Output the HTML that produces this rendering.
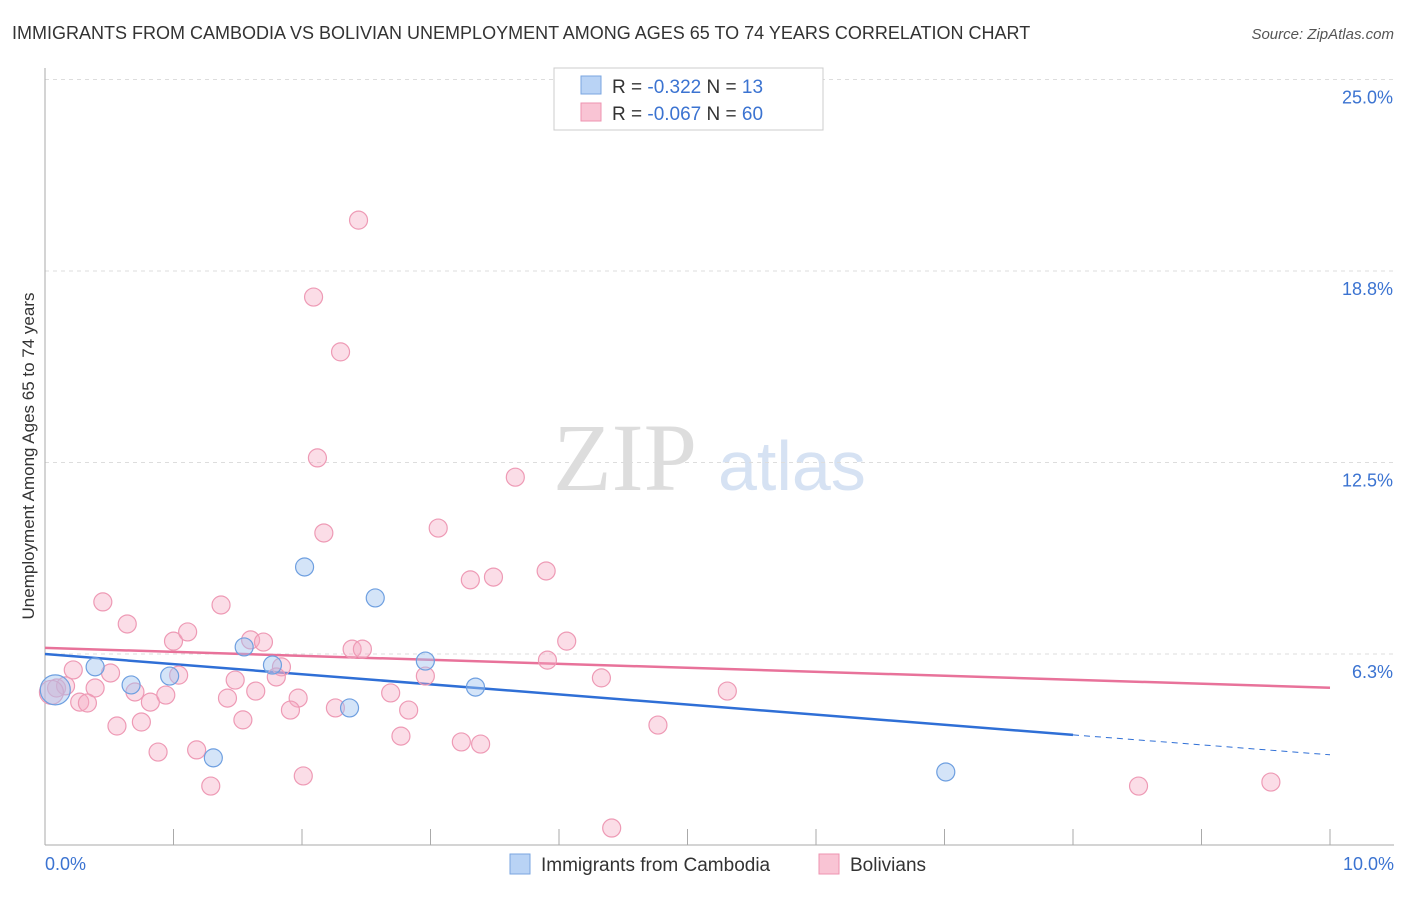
<!DOCTYPE html>
<html><head><meta charset="utf-8"><style>
body{margin:0;background:#fff;font-family:"Liberation Sans",sans-serif;}
</style></head><body>
<svg id="chart" width="1406" height="892" xmlns="http://www.w3.org/2000/svg" font-family="Liberation Sans, sans-serif">
<text x="12" y="39" font-size="18" fill="#333">IMMIGRANTS FROM CAMBODIA VS BOLIVIAN UNEMPLOYMENT AMONG AGES 65 TO 74 YEARS CORRELATION CHART</text>
<text x="1394" y="39" font-size="15" fill="#555" text-anchor="end" font-style="italic">Source: ZipAtlas.com</text>
<g>
<text x="553" y="490" font-size="96" fill="#ddd" font-family="Liberation Serif, serif">ZIP</text>
<text x="718" y="490" font-size="70" fill="#d6e2f3">atlas</text>
</g>
<g id="grid"></g>
<g id="axes"></g>
<g id="lines"></g>
<g id="points"></g>
<text transform="translate(34,456) rotate(-90)" font-size="17" fill="#333" text-anchor="middle">Unemployment Among Ages 65 to 74 years</text>
<g>
<rect x="554" y="68" width="269" height="62" fill="#fff" stroke="#ccc"/>
<rect x="581" y="76" width="20" height="18" fill="#b9d3f5" stroke="#7aa6e0"/>
<rect x="581" y="103" width="20" height="18" fill="#f9c4d4" stroke="#ee93b0"/>
<text x="612" y="93" font-size="19" fill="#333">R = <tspan fill="#3b73d1">-0.322</tspan>   N = <tspan fill="#3b73d1"> 13</tspan></text>
<text x="612" y="120" font-size="19" fill="#333">R = <tspan fill="#3b73d1">-0.067</tspan>   N = <tspan fill="#3b73d1">60</tspan></text>
</g>
<g>
<rect x="510" y="854" width="20" height="20" fill="#b9d3f5" stroke="#7aa6e0"/>
<text x="541" y="871" font-size="19" fill="#333">Immigrants from Cambodia</text>
<rect x="819" y="854" width="20" height="20" fill="#f9c4d4" stroke="#ee93b0"/>
<text x="850" y="871" font-size="19" fill="#333">Bolivians</text>
</g>
</svg>
<script>
const blueX=[0.08,0.39,0.67,0.97,1.31,1.55,1.77,2.02,2.37,2.57,2.96,3.35,7.01];
const blueY=[5.08,5.83,5.24,5.53,2.86,6.48,5.89,9.09,4.49,8.08,6.02,5.17,2.40];
const blueR=[15,9,9,9,9,9,9,9,9,9,9,9,9];
const pinkX=[0.09,0.16,0.45,0.64,0.22,0.51,0.39,0.27,0.33,0.56,0.75,0.70,0.82,0.94,0.88,1.18,1.29,1.04,1.00,1.11,1.37,1.60,1.70,1.84,1.80,1.48,1.42,1.64,1.54,1.97,1.91,2.01,2.39,2.47,2.26,2.69,2.83,2.77,2.96,2.44,2.09,2.30,2.12,2.17,3.66,3.06,3.31,3.49,3.90,4.06,3.91,4.33,3.24,3.39,4.77,4.41,5.31,8.51,9.54,0.05];
const pinkY=[5.14,5.21,7.95,7.23,5.73,5.63,5.14,4.68,4.65,3.90,4.03,5.01,4.68,4.91,3.05,3.12,1.94,5.56,6.67,6.97,7.85,6.71,6.64,5.83,5.50,5.40,4.81,5.04,4.10,4.81,4.42,2.27,6.41,6.41,4.49,4.98,4.42,3.57,5.53,20.41,17.90,16.11,12.65,10.20,12.02,10.36,8.67,8.76,8.96,6.67,6.05,5.47,3.38,3.31,3.93,0.57,5.04,1.94,2.07,5.0];
const yTicks=[25,18.75,12.5,6.25];
const yTickLabels=["25.0%","18.8%","12.5%","6.3%"];
const xTicks=[0,1,2,3,4,5,6,7,8,9,10];
const blueTrend=[[0,6.25],[8,3.61],[10,2.96]];
const pinkTrend=[[0,6.45],[10,5.15]];
const NS="http://www.w3.org/2000/svg";
const X=v=>45+v*128.5, Y=v=>845.5-v*30.64;
function mk(tag,attrs,parent){const e=document.createElementNS(NS,tag);for(const k in attrs)e.setAttribute(k,attrs[k]);document.getElementById(parent).appendChild(e);return e;}
yTicks.forEach((t,i)=>{
 const g=mk('line',{x1:45,x2:1394,y1:Y(t),y2:Y(t),stroke:'#ddd','stroke-dasharray':'4,4'},'grid');
 
 
 const l=mk('text',{x:1393,y:Y(t)+24,'font-size':18,fill:'#3b73d1','text-anchor':'end'},'axes');
 l.textContent=yTickLabels[i];
 
 
});
const ax=mk('line',{x1:45,x2:45,y1:68,y2:845,stroke:'#aaa'},'axes');


const bx=mk('line',{x1:45,x2:1394,y1:845,y2:845,stroke:'#aaa'},'axes');


xTicks.forEach(t=>{
 const tk=mk('line',{x1:X(t),x2:X(t),y1:829,y2:845,stroke:'#aaa'},'axes');
 
 
});
[[0,"0.0%","start",45],[10,"10.0%","end",1394]].forEach(a=>{
 const t=mk('text',{x:a[3],y:870,'font-size':18,fill:'#3b73d1','text-anchor':a[2]},'axes');
 t.textContent=a[1];
 
 
});
const pl=mk('line',{x1:X(pinkTrend[0][0]),y1:Y(pinkTrend[0][1]),x2:X(pinkTrend[1][0]),y2:Y(pinkTrend[1][1]),stroke:'#e8729a','stroke-width':2.5},'lines');


const bl=mk('line',{x1:X(blueTrend[0][0]),y1:Y(blueTrend[0][1]),x2:X(blueTrend[1][0]),y2:Y(blueTrend[1][1]),stroke:'#2f6fd6','stroke-width':2.5},'lines');


const bd=mk('line',{x1:X(blueTrend[1][0]),y1:Y(blueTrend[1][1]),x2:X(blueTrend[2][0]),y2:Y(blueTrend[2][1]),stroke:'#2f6fd6','stroke-width':1,'stroke-dasharray':'6,5'},'lines');


pinkX.forEach((x,i)=>{
 const c=mk('circle',{cx:X(x),cy:Y(pinkY[i]),r:i==59?12:9,fill:'rgba(246,170,195,0.4)',stroke:'#ee9ab5','stroke-width':1.2},'points');
 
 
});
blueX.forEach((x,i)=>{
 const c=mk('circle',{cx:X(x),cy:Y(blueY[i]),r:blueR[i],fill:'rgba(160,195,240,0.45)',stroke:'#6e9fe0','stroke-width':1.2},'points');
 
 
});
</script>
</body></html>
